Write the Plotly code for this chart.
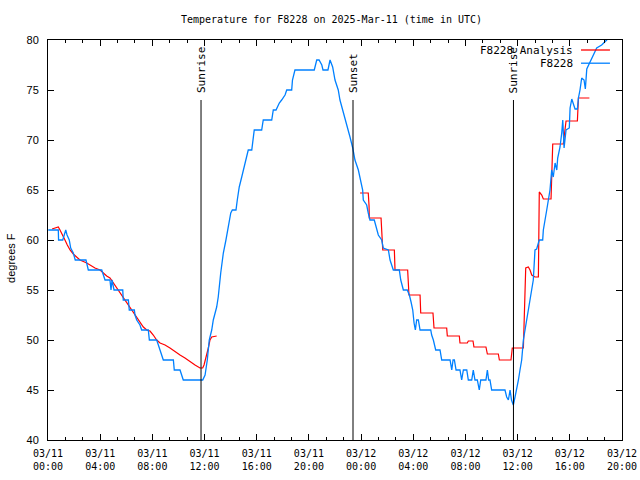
import pandas as pd
import plotly.graph_objects as go

BASE = pd.Timestamp("2025-03-11 00:00")

# Observations (hours after 03/11 00:00 UTC, degrees F)
obs_hours = [0.02, 0.79, 0.81, 1.13, 1.36, 1.46, 1.63, 1.74, 1.94, 2.09, 2.91, 3.09, 4.12, 4.24, 4.37,
             4.75, 4.83, 4.91, 5.06, 5.73, 5.77, 6.16, 6.23, 6.62, 6.67, 6.80, 7.05, 7.18, 7.69, 7.77,
             8.33, 8.46, 8.59, 8.84, 9.61, 9.68, 10.12, 10.25, 10.37, 11.86, 12.04, 12.21, 12.36, 12.55,
             12.67, 12.93, 13.05, 13.24, 13.44, 13.64, 13.82, 14.01, 14.13, 14.41, 14.51, 14.66, 14.85,
             15.05, 15.23, 15.35, 15.62, 15.69, 15.81, 16.38, 16.50, 17.15, 17.27, 17.48, 17.73, 17.91,
             18.17, 18.30, 18.68, 18.74, 18.93, 20.41, 20.60, 20.78, 20.99, 21.08, 21.46, 21.62, 21.82,
             22.00, 22.25, 22.38, 22.59, 22.77, 22.94, 23.15, 23.36, 23.53, 23.79, 23.97, 24.12, 24.17,
             24.43, 24.55, 24.68, 25.01, 25.14, 25.32, 25.58, 25.70, 26.09, 26.22, 26.47, 26.93, 27.04,
             27.24, 27.54, 27.70, 27.83, 27.96, 28.06, 28.16, 28.26, 28.39, 28.52, 29.34, 29.41, 29.54,
             29.72, 30.05, 30.18, 30.82, 30.95, 31.05, 31.15, 31.28, 31.58, 31.71, 31.84, 32.10, 32.22,
             32.48, 32.60, 32.73, 32.91, 33.06, 33.17, 33.57, 33.68, 33.78, 33.88, 34.01, 35.03, 35.16,
             35.29, 35.42, 35.53, 35.67, 35.80, 35.93, 36.06, 36.18, 36.31, 36.44, 36.56, 36.70, 36.82,
             36.95, 37.08, 37.20, 37.33, 37.46, 37.59, 37.66, 37.92, 37.97, 38.23, 38.48, 38.61, 38.73,
             38.87, 39.00, 39.07, 39.25, 39.38, 39.46, 39.56, 39.71, 39.96, 40.02, 40.15, 40.27, 40.40,
             40.58, 40.66, 40.78, 40.91, 41.09, 41.19, 41.30, 41.55, 41.80, 42.06, 42.44, 42.83, 43.08]
obs_temps = [61, 61, 60, 60, 61, 60.5, 60, 59.2, 58.7, 58, 58, 57, 57, 56.5, 56,
             56, 55, 56, 55, 55, 54, 54, 53, 53, 52.5, 52, 51.5, 51, 51, 50,
             50, 49.5, 49, 48, 48, 47, 47, 46.5, 46, 46, 46.5, 48, 50, 51,
             52, 53.3, 54.3, 56.7, 58.7, 60, 61.3, 62.7, 63, 63, 64, 65.3, 66.3,
             67.3, 68.5, 69, 69, 70, 71, 71, 72, 72, 73, 73, 73.7, 74,
             74.5, 75, 75, 76, 77, 77, 78, 78, 77.5, 77, 77, 78, 77.3,
             76, 75, 74, 73, 72.3, 71.3, 70.3, 69.2, 68, 67, 66, 65, 64,
             63.5, 62.7, 62, 62, 61.3, 60.5, 60, 59.2, 59, 58, 57, 57, 56,
             55, 55, 54.5, 53.8, 53, 51.7, 51, 52, 52, 51, 51, 50.5, 50,
             49, 49, 48, 48, 47, 48, 48, 47, 47, 46, 47, 47, 46,
             46, 47, 46, 46, 45, 46, 46, 47, 46, 46, 45, 45, 44.3,
             44, 45, 44, 43.5, 44.3, 45, 46, 47, 48, 50, 51, 52, 53,
             54, 55, 56, 59, 59.1, 59.7, 60, 60, 61, 63, 65, 67, 66.3,
             67.7, 67, 68.2, 69.3, 70.7, 72, 69.2, 71, 71.2, 73.2, 74.1, 73.7, 73.1,
             73.1, 74.2, 75, 76.2, 76, 75.1, 77.1, 77.8, 78.5, 79.2, 79.5, 80, 80.5]

# Analysis (None = no analysis)
ana_hours = [0.31, 0.61, 0.79, 0.92, 1.13, 1.30, 1.48, 1.69, 1.94, 2.20, 2.45, 2.97, 3.22, 3.60, 3.99,
             4.24, 4.50, 4.75, 5.01, 5.27, 5.52, 5.77, 6.03, 6.29, 6.54, 6.80, 7.05, 7.31, 7.57, 7.82,
             8.07, 8.33, 8.59, 8.97, 9.35, 9.74, 10.12, 10.50, 10.89, 11.27, 11.65, 11.86, 11.96, 12.11,
             12.29, 12.42, 12.55, 12.93, None,
             23.92, 24.55, 24.61, 24.63, 25.53, 25.58, 25.66, 26.55, 26.60, 27.57, 27.62, 27.67, 28.52,
             28.57, 29.51, 29.59, 30.56, 30.61, 31.53, 31.58, 32.14, 32.22, 32.58, 32.65, 33.57, 33.68,
             34.52, 34.60, 35.49, 35.59, 36.44, 36.51, 36.62, 36.82, 36.95, 37.08, 37.33, 37.59, 37.64,
             37.66, 37.85, 37.97, 38.56, 38.61, 38.69, 39.50, 39.56, 39.71, 40.58, 40.66, 41.50]
ana_temps = [61.1, 61.2, 61.3, 61, 60.5, 60, 59.5, 59, 58.6, 58.3, 58, 57.7, 57.5, 57.2, 57,
             56.7, 56.4, 56.2, 55.7, 55.2, 54.7, 54.3, 53.8, 53.2, 52.7, 52.2, 51.8, 51.3, 51, 50.9,
             50.5, 50, 49.7, 49.5, 49.2, 48.8, 48.5, 48.2, 47.8, 47.5, 47.2, 47.2, 47.5, 48.2,
             49.2, 50, 50.3, 50.4, None,
             64.7, 64.7, 63.4, 62.2, 62.2, 60.7, 59, 59, 57, 57, 55.7, 54.5, 54.5,
             52.7, 52.7, 51.2, 51.2, 50.4, 50.4, 49.7, 49.7, 49.9, 49.9, 49.3, 49.3, 48.6,
             48.6, 48, 48, 49.2, 49.2, 53, 57.2, 57.3, 57, 56.5, 56.3, 56.3, 60.7,
             64.8, 64.5, 64.1, 64.1, 67, 69.6, 69.6, 70.3, 71.9, 71.9, 74.2, 74.2]

event_hours = [11.73, 23.38, 35.68]
event_labels = ["Sunrise", "Sunset", "Sunrise"]
event_line_top = 74

y_ticks = [40, 45, 50, 55, 60, 65, 70, 75, 80]
legend_labels = ["F8228 Analysis", "F8228"]
series_colors = ["#ff0000", "#0080ff"]


def to_time(hs):
    return [None if h is None else BASE + pd.Timedelta(hours=h) for h in hs]


MONO = "DejaVu Sans Mono"
SANS = "Liberation Sans"

fig = go.Figure()
fig.add_trace(go.Scatter(x=to_time(ana_hours), y=ana_temps, mode="lines",
                         line=dict(color=series_colors[0], width=1.2), connectgaps=False,
                         name=legend_labels[0]))
fig.add_trace(go.Scatter(x=to_time(obs_hours), y=obs_temps, mode="lines",
                         line=dict(color=series_colors[1], width=1.3), name=legend_labels[1]))

for h, lab in zip(event_hours, event_labels):
    t = BASE + pd.Timedelta(hours=h)
    fig.add_shape(type="line", xref="x", yref="y", x0=t, x1=t, y0=40, y1=event_line_top,
                  line=dict(color="black", width=1))
    fig.add_annotation(x=t, y=event_line_top, xref="x", yref="y", text=lab, textangle=-90,
                       showarrow=False, xanchor="center", yanchor="bottom", yshift=5,
                       font=dict(family=MONO, size=11, color="black"))

# legend (gnuplot style: text then sample on the right)
for i, (lab, col) in enumerate(zip(legend_labels, series_colors)):
    yp = 0.975 - i * 0.033
    fig.add_annotation(x=0.918, y=yp, xref="paper", yref="paper", text=lab, showarrow=False,
                       xanchor="right", yanchor="middle", font=dict(family=MONO, size=11, color="black"))
    fig.add_shape(type="line", xref="paper", yref="paper", x0=0.9286, x1=0.979, y0=yp, y1=yp,
                  line=dict(color=col, width=1.3))

fig.add_annotation(x=-0.0645, y=0.455, xref="paper", yref="paper", text="degrees F", textangle=-90,
                   showarrow=False, xanchor="center", yanchor="middle",
                   font=dict(family=SANS, size=11, color="black"))

fig.update_layout(
    width=640, height=480,
    margin=dict(l=48, r=18, t=40, b=40, autoexpand=False),
    paper_bgcolor="white", plot_bgcolor="white",
    showlegend=False,
    title=dict(text="Temperature for F8228 on 2025-Mar-11 (time in UTC)", x=0.518, xanchor="center",
               y=0.96, yanchor="middle", font=dict(family=MONO, size=10, color="black")),
)
fig.update_xaxes(
    type="date", range=[BASE, BASE + pd.Timedelta(hours=44)], automargin=False,
    tick0=BASE, dtick=4 * 3600 * 1000, tickformat="%m/%d<br>%H:%M",
    ticks="inside", ticklen=6, tickcolor="black", showgrid=False, zeroline=False,
    showline=True, linecolor="black", linewidth=1, mirror="ticks",
    tickfont=dict(family=MONO, size=10, color="black"), ticklabelstandoff=4,
    minor=dict(dtick=80 * 60 * 1000, tick0=BASE, ticks="inside", ticklen=3, tickcolor="black",
               showgrid=False),
)
fig.update_yaxes(
    range=[40, 80], tickvals=y_ticks, automargin=False,
    ticks="inside", ticklen=6, tickcolor="black", showgrid=False, zeroline=False,
    showline=True, linecolor="black", linewidth=1, mirror="ticks",
    tickfont=dict(family=SANS, size=11, color="black"), ticklabelstandoff=6,
)

# remove the browser's default 8px page margin so the 640x480 figure fills the window
fig.write_html("out.html", config={"displayModeBar": False},
               post_script="document.body.style.margin='0px';")
